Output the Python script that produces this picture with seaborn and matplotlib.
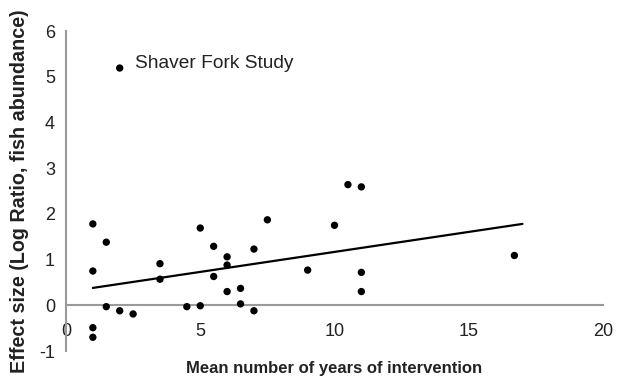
import matplotlib

matplotlib.use("Agg")
import matplotlib.pyplot as plt
import numpy as np
import pandas as pd
import seaborn as sns

# mean years of intervention vs. effect size (log ratio, fish abundance)
years = [1, 1, 1, 1, 1.5, 1.5, 2, 2.5, 3.5, 3.5, 4.5, 5, 5, 5.5, 5.5,
         6, 6, 6, 6.5, 6.5, 7, 7, 7.5, 9, 10, 10.5, 11, 11, 11, 16.7]
effect = [1.78, 0.75, -0.49, -0.70, 1.38, -0.03, -0.12, -0.19, 0.91, 0.57,
          -0.03, -0.01, 1.69, 1.29, 0.63, 1.06, 0.88, 0.30, 0.37, 0.03,
          1.23, -0.12, 1.87, 0.77, 1.75, 2.64, 2.59, 0.72, 0.30, 1.09]

outlier_x = 2.0
outlier_y = 5.19
outlier_label = "Shaver Fork Study"

# linear trend line as drawn in the figure
trend_x = [1, 17]
trend_y = [0.38, 1.78]

x_ticks = [0, 5, 10, 15, 20]
y_ticks = [-1, 0, 1, 2, 3, 4, 5, 6]

sns.set_style("white")
plt.rcParams["font.family"] = ["Liberation Sans", "DejaVu Sans"]
plt.rcParams["axes.unicode_minus"] = False

axis_grey = "#9a9a9a"
text_col = "#222222"

df = pd.DataFrame({"years": years + [outlier_x], "effect": effect + [outlier_y]})

fig = plt.figure(figsize=(6.18, 3.78), dpi=100)
ax = fig.add_axes([66 / 618, 27 / 378, 537 / 618, 320 / 378])

sns.scatterplot(data=df, x="years", y="effect", color="black", s=28,
                edgecolor="none", ax=ax, zorder=3)
sns.lineplot(x=trend_x, y=trend_y, color="black", linewidth=1.6, ax=ax)

ax.annotate(outlier_label, (outlier_x, outlier_y), xytext=(11, 3.5),
            textcoords="offset points", va="center", ha="left",
            fontsize=13.8, color=text_col)

ax.set_xlim(0, 20)
ax.set_ylim(-1, 6)
ax.set_xticks(x_ticks)
ax.set_yticks(y_ticks)

ax.spines["top"].set_visible(False)
ax.spines["right"].set_visible(False)
ax.spines["bottom"].set_position(("data", 0))
for side in ["left", "bottom"]:
    ax.spines[side].set_color(axis_grey)
    ax.spines[side].set_linewidth(1.5)

ax.tick_params(axis="both", colors=axis_grey, width=1.5, length=6,
               labelsize=13, labelcolor=text_col)
ax.tick_params(axis="x", pad=7)
ax.tick_params(axis="y", pad=2)

ax.set_xlabel("")
ax.set_ylabel("")
fig.text(19.5 / 618, 1 - 191 / 378, "Effect size (Log Ratio, fish abundance)",
         rotation=90, ha="center", va="center", fontsize=14.2,
         fontweight="bold", color=text_col)
fig.text(334 / 618, 4.5 / 378, "Mean number of years of intervention",
         ha="center", va="baseline", fontsize=12, fontweight="bold", color=text_col)

fig.savefig("out.png", dpi=100)
plt.close(fig)
